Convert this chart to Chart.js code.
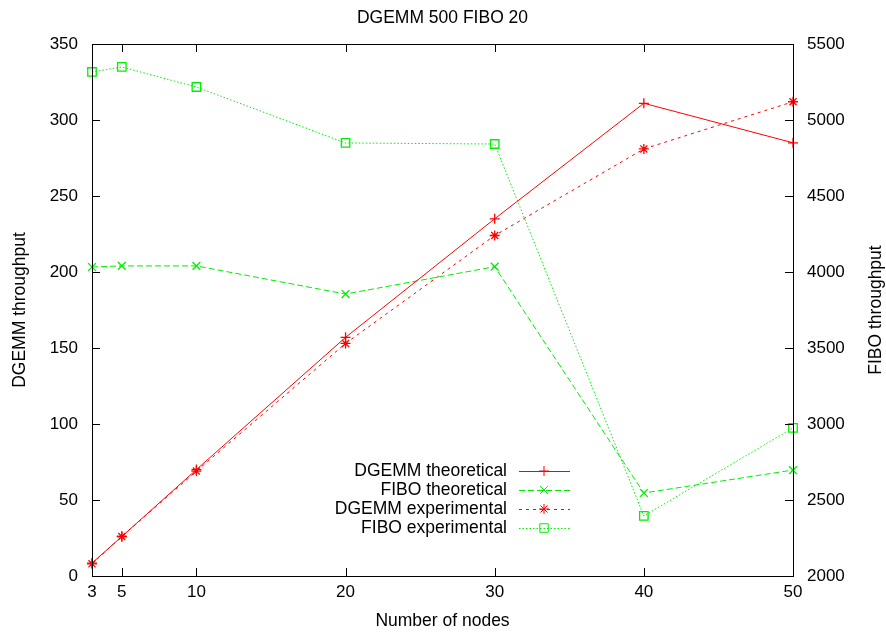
<!DOCTYPE html>
<html>
<head>
<meta charset="utf-8">
<script src="https://cdn.jsdelivr.net/npm/chart.js@4"></script>
<style>
  html, body { margin: 0; padding: 0; background: #fff; }
  #wrap { width: 886px; height: 633px; }
</style>
</head>
<body>
<div id="wrap"><canvas id="myChart"></canvas></div>
<script>
// values
var nodes = [3, 5, 10, 20, 30, 40, 50];
var dgemmTheo = [8.5, 26, 70, 157, 235, 311, 285];
var dgemmExp = [8, 26, 69, 153, 224, 281, 312];
var fiboTheo = [4033, 4040, 4040, 3855, 4035, 2546, 2697];
var fiboExp = [5316, 5349, 5217, 4849, 4842, 2395, 2974];
var xTicks = [3, 5, 10, 20, 30, 40, 50];

var FONT = "'Liberation Sans', Arial, sans-serif";
var RED = "#ff0000";
var GREEN = "#00ee00";

function pts(ys) {
    return nodes.map(function(x, i) { return { x: x, y: ys[i] }; });
}

// box, inward ticks, titles and the gnuplot-style legend
var gnuplotBits = {
    id: "gnuplotBits",
    afterDraw: function(chart) {
        var ctx = chart.ctx;
        var a = chart.chartArea;
        var sx = chart.scales.x, sy = chart.scales.y, sy1 = chart.scales.y1;
        ctx.save();
        ctx.strokeStyle = "#000";
        ctx.lineWidth = 1;
        ctx.strokeRect(a.left + 0.5, a.top + 0.5, a.right - a.left, a.bottom - a.top);
        ctx.beginPath();
        xTicks.forEach(function(v) {
            var px = Math.round(sx.getPixelForValue(v)) + 0.5;
            ctx.moveTo(px, a.bottom); ctx.lineTo(px, a.bottom - 8);
            ctx.moveTo(px, a.top); ctx.lineTo(px, a.top + 8);
        });
        sy.ticks.forEach(function(t) {
            var py = Math.round(sy.getPixelForValue(t.value)) + 0.5;
            ctx.moveTo(a.left, py); ctx.lineTo(a.left + 8, py);
        });
        sy1.ticks.forEach(function(t) {
            var py = Math.round(sy1.getPixelForValue(t.value)) + 0.5;
            ctx.moveTo(a.right, py); ctx.lineTo(a.right - 8, py);
        });
        ctx.stroke();

        ctx.fillStyle = "#000";
        ctx.font = "17.5px " + FONT;
        ctx.textAlign = "center";
        ctx.textBaseline = "middle";
        ctx.fillText("DGEMM 500 FIBO 20", (a.left + a.right) / 2, 18);
        ctx.fillText("Number of nodes", (a.left + a.right) / 2, 621);
        ctx.save();
        ctx.translate(20, (a.top + a.bottom) / 2);
        ctx.rotate(-Math.PI / 2);
        ctx.fillText("DGEMM throughput", 0, 0);
        ctx.restore();
        ctx.save();
        ctx.translate(876, (a.top + a.bottom) / 2);
        ctx.rotate(-Math.PI / 2);
        ctx.fillText("FIBO throughput", 0, 0);
        ctx.restore();

        // legend
        ctx.textAlign = "right";
        chart.data.datasets.forEach(function(ds, i) {
            var y = 471 + i * 19;
            ctx.fillStyle = "#000";
            ctx.fillText(ds.label, 507, y);
            ctx.strokeStyle = ds.borderColor;
            ctx.setLineDash(ds.borderDash || []);
            ctx.beginPath();
            ctx.moveTo(519, y + 0.5); ctx.lineTo(570, y + 0.5);
            ctx.stroke();
            ctx.setLineDash([]);
            ctx.fillStyle = "rgba(0,0,0,0)";
            Chart.helpers.drawPoint(ctx, {
                pointStyle: ds.pointStyle, radius: ds.pointRadius,
                borderWidth: ds.pointBorderWidth
            }, 544, y);
        });
        ctx.restore();
    }
};

var data = {
    datasets: [
        { label: "DGEMM theoretical", data: pts(dgemmTheo), yAxisID: "y",
          borderColor: RED, pointStyle: "cross", borderDash: [], pointRadius: 5 },
        { label: "FIBO theoretical", data: pts(fiboTheo), yAxisID: "y1",
          borderColor: GREEN, pointStyle: "crossRot", borderDash: [6, 3], pointRadius: 5.5 },
        { label: "DGEMM experimental", data: pts(dgemmExp), yAxisID: "y",
          borderColor: RED, pointStyle: "star", borderDash: [3, 4], pointRadius: 5 },
        { label: "FIBO experimental", data: pts(fiboExp), yAxisID: "y1",
          borderColor: GREEN, pointStyle: "rect", borderDash: [1.5, 2], pointRadius: 6 }
    ]
};
data.datasets.forEach(function(ds) {
    ds.borderWidth = 1;
    ds.pointBorderColor = ds.borderColor;
    ds.pointBackgroundColor = "rgba(0,0,0,0)";
    ds.pointBorderWidth = 1.3;
    ds.fill = false;
    ds.tension = 0;
    ds.clip = false;
});

var tickFont = { family: FONT, size: 17 };
function plain(v) { return String(v); }

new Chart(document.getElementById("myChart"), {
    type: "line",
    data: data,
    options: {
        responsive: true,
        maintainAspectRatio: false,
        animation: false,
        layout: { padding: { top: 44, left: 0, right: 0, bottom: 0 } },
        plugins: { legend: { display: false }, title: { display: false }, tooltip: { enabled: false } },
        scales: {
            x: {
                type: "linear", min: 3, max: 50,
                afterBuildTicks: function(s) { s.ticks = xTicks.map(function(v) { return { value: v }; }); },
                afterFit: function(s) { s.height = 57; },
                grid: { display: false, drawTicks: false },
                border: { display: false },
                ticks: { font: tickFont, color: "#000", padding: 6, autoSkip: false, maxRotation: 0, callback: plain }
            },
            y: {
                position: "left", min: 0, max: 350,
                afterFit: function(s) { s.width = 92; },
                grid: { display: false, drawTicks: false },
                border: { display: false },
                ticks: { stepSize: 50, font: tickFont, color: "#000", padding: 14, callback: plain }
            },
            y1: {
                position: "right", min: 2000, max: 5500,
                afterFit: function(s) { s.width = 93; },
                grid: { display: false, drawTicks: false },
                border: { display: false },
                ticks: { stepSize: 500, font: tickFont, color: "#000", padding: 14, callback: plain }
            }
        }
    },
    plugins: [gnuplotBits]
});
</script>
</body>
</html>
